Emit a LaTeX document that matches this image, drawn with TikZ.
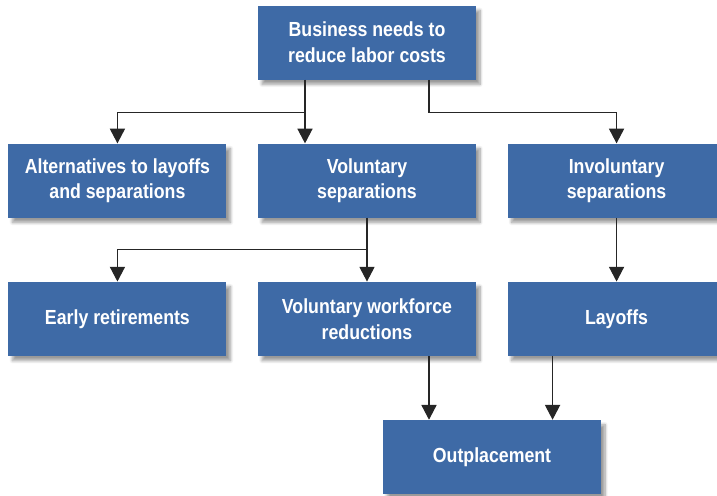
\documentclass[tikz,border=0pt]{standalone}
\usepackage{fontspec}
\setmainfont{Liberation Sans}[FakeStretch=0.87]
\usetikzlibrary{shapes,arrows.meta,positioning,calc,shadows.blur}
\definecolor{boxblue}{RGB}{62,106,166}

\begin{document}
\begin{tikzpicture}[node distance=1.59cm and 0.775cm, auto,
    blockbox/.style={rectangle, fill=boxblue, text=white, align=center,
        font=\fontsize{14.5}{18.4}\selectfont\bfseries,
        minimum width=5.45cm, minimum height=1.85cm, inner sep=0pt,
        blur shadow={shadow xshift=0.1cm, shadow yshift=-0.12cm, shadow blur steps=8, shadow opacity=40}},
    link/.style={-{Triangle[width=0.38cm,length=0.37cm]}, line width=0.8pt, black!85}]
    \useasboundingbox (0,0) rectangle (17.925,-12.375);

    \node[blockbox] (need) at (9.175,-1.0625) {Business needs to\\reduce labor costs};
    \node[blockbox, below=of need] (vol) {Voluntary\\separations};
    \node[blockbox, left=of vol] (alt) {Alternatives to layoffs\\and separations};
    \node[blockbox, right=of vol] (invol) {Involuntary\\separations};
    \node[blockbox, below=of vol] (vwr) {Voluntary workforce\\reductions};
    \node[blockbox, left=of vwr] (early) {Early retirements};
    \node[blockbox, right=of vwr] (layoffs) {Layoffs};
    \node[blockbox, below=of vwr, xshift=3.125cm] (outpl) {Outplacement};

    \draw[link] ([xshift=-1.55cm]need.south) -- ([xshift=-1.55cm]vol.north);
    \draw[link] ([xshift=-1.55cm]need.south) |- ([yshift=0.775cm]alt.north) -- (alt.north);
    \draw[link] ([xshift=1.55cm]need.south) |- ([yshift=0.775cm]invol.north) -- (invol.north);
    \draw[link] (vol.south) -- (vwr.north);
    \draw[link] (vol.south) |- ([yshift=0.8cm]early.north) -- (early.north);
    \draw[link] (invol.south) -- (layoffs.north);
    \draw[link] ([xshift=1.55cm]vwr.south) -- ([xshift=1.55cm]vwr.south |- outpl.north);
    \draw[link] ([xshift=-1.6cm]layoffs.south) -- ([xshift=-1.6cm]layoffs.south |- outpl.north);
\end{tikzpicture}
\end{document}
